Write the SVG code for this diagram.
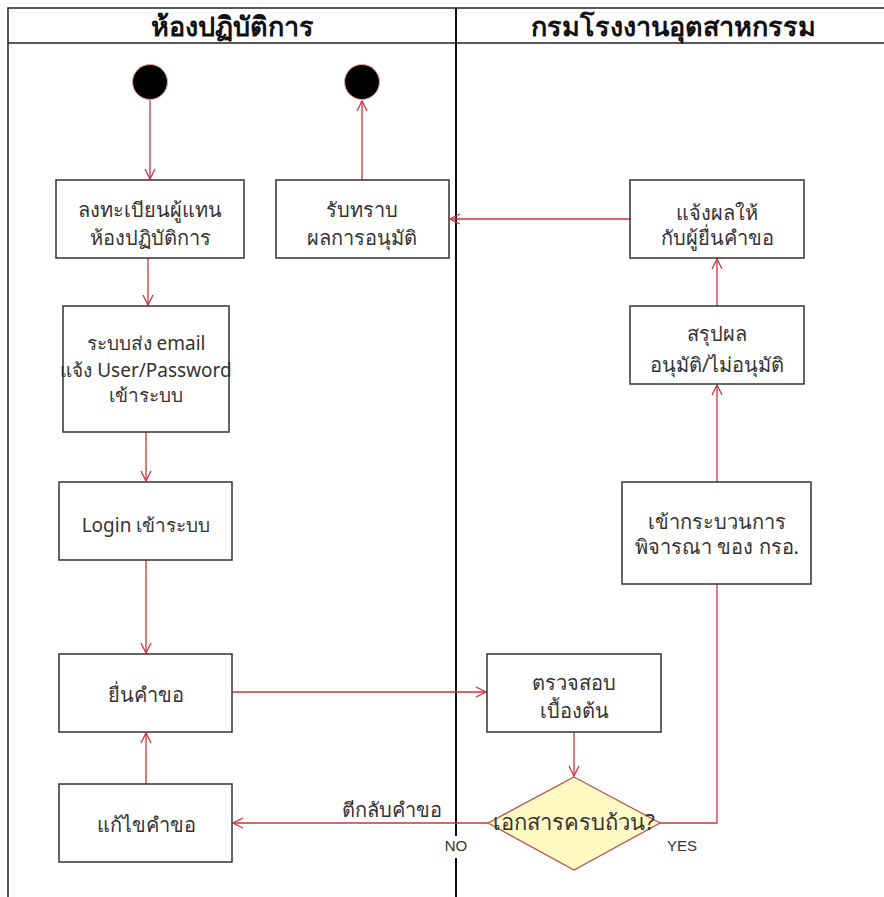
<svg xmlns="http://www.w3.org/2000/svg" width="884" height="897" viewBox="0 0 884 897">
<style>
.frame{stroke:#222;stroke-width:1.5;fill:none}
.lane{stroke:#111;stroke-width:2;fill:none}
.box{fill:#fff;stroke:#333;stroke-width:1.5}
.t{font-family:"Noto Sans","DejaVu Sans",Tahoma,sans-serif;font-size:20px;fill:#333;text-anchor:middle}
.h{font-family:"Noto Sans","DejaVu Sans",Tahoma,sans-serif;font-size:27px;font-weight:bold;fill:#111;text-anchor:middle}
.e{stroke:#d0323c;stroke-width:1.3;fill:none;marker-end:url(#arr)}
.lbl{font-family:"Liberation Sans","Noto Sans",sans-serif;font-size:15px;fill:#333;text-anchor:middle}
</style>
<defs>
<marker id="arr" markerWidth="12" markerHeight="12" refX="11" refY="6" orient="auto" markerUnits="userSpaceOnUse">
<path d="M1,1 L11,6 L1,11" fill="none" stroke="#d0323c" stroke-width="1.3"/>
</marker>
</defs>
<rect width="884" height="897" fill="#fff"/>
<g id="frame">
<path class="frame" d="M8,897 V8 H884"/>
<path class="frame" d="M8,43 H884"/>
<path class="lane" d="M456,8 V836 M456,858 V897"/>
<text class="h" x="232" y="36">ห้องปฏิบัติการ</text>
<text class="h" x="673" y="36">กรมโรงงานอุตสาหกรรม</text>
</g>
<g id="connectors">
<path class="e" d="M150,100 V179"/>
<path class="e" d="M148,258 V305"/>
<path class="e" d="M146,432 V481"/>
<path class="e" d="M146,560 V653"/>
<path class="e" d="M146,784 V733"/>
<path class="e" d="M232,692 H486"/>
<path class="e" d="M574,732 V776"/>
<path class="e" d="M488,823 H233"/>
<path class="e" d="M660,823 H717 V483"/>
<path class="e" d="M717,482 V385"/>
<path class="e" d="M717,306 V259"/>
<path class="e" d="M630,219 H450"/>
<path class="e" d="M362,180 V101"/>
<text class="lbl" x="392" y="817" style="font-family:'Noto Sans',sans-serif;font-size:20px">ตีกลับคำขอ</text>
<rect x="444" y="836" width="24" height="20" fill="#fff"/>
<text class="lbl" x="456" y="851">NO</text>
<text class="lbl" x="682" y="851">YES</text>
</g>
<g id="start"><circle cx="150" cy="82" r="17.5" fill="#000" stroke="#f3a0a0" stroke-width="1"/></g>
<g id="end"><circle cx="362" cy="82" r="17.5" fill="#000" stroke="#f3a0a0" stroke-width="1"/></g>
<g id="register">
<rect class="box" x="56" y="180" width="188" height="78"/>
<text class="t" x="150" y="217">ลงทะเบียนผู้แทน</text>
<text class="t" x="150" y="245">ห้องปฏิบัติการ</text>
</g>
<g id="ack">
<rect class="box" x="276" y="180" width="173" height="78"/>
<text class="t" x="362" y="217">รับทราบ</text>
<text class="t" x="362" y="245">ผลการอนุมัติ</text>
</g>
<g id="email">
<rect class="box" x="63" y="306" width="166" height="126"/>
<text class="t" x="146" y="350" style="font-size:19px">ระบบส่ง email</text>
<text class="t" x="146" y="377" style="font-size:19px">แจ้ง User/Password</text>
<text class="t" x="146" y="402" style="font-size:19px">เข้าระบบ</text>
</g>
<g id="login">
<rect class="box" x="59" y="482" width="173" height="78"/>
<text class="t" x="146" y="532" style="font-size:19px">Login เข้าระบบ</text>
</g>
<g id="submit">
<rect class="box" x="59" y="654" width="173" height="78"/>
<text class="t" x="146" y="702">ยื่นคำขอ</text>
</g>
<g id="fix">
<rect class="box" x="59" y="784" width="173" height="78"/>
<text class="t" x="146" y="832">แก้ไขคำขอ</text>
</g>
<g id="check">
<rect class="box" x="487" y="654" width="174" height="78"/>
<text class="t" x="574" y="690">ตรวจสอบ</text>
<text class="t" x="574" y="718">เบื้องต้น</text>
</g>
<g id="decision">
<polygon points="574,777 660,823 574,870 488,823" fill="#fff9c4" stroke="#b5524a" stroke-width="1.3"/>
<text class="t" x="574" y="830" style="font-size:22px">เอกสารครบถ้วน?</text>
</g>
<g id="process">
<rect class="box" x="622" y="482" width="189" height="102"/>
<text class="t" x="717" y="529">เข้ากระบวนการ</text>
<text class="t" x="717" y="554">พิจารณา ของ กรอ.</text>
</g>
<g id="summary">
<rect class="box" x="630" y="306" width="174" height="78"/>
<text class="t" x="717" y="341">สรุปผล</text>
<text class="t" x="717" y="372">อนุมัติ/ไม่อนุมัติ</text>
</g>
<g id="notify">
<rect class="box" x="630" y="180" width="174" height="78"/>
<text class="t" x="717" y="220">แจ้งผลให้</text>
<text class="t" x="717" y="245">กับผู้ยื่นคำขอ</text>
</g>
</svg>
